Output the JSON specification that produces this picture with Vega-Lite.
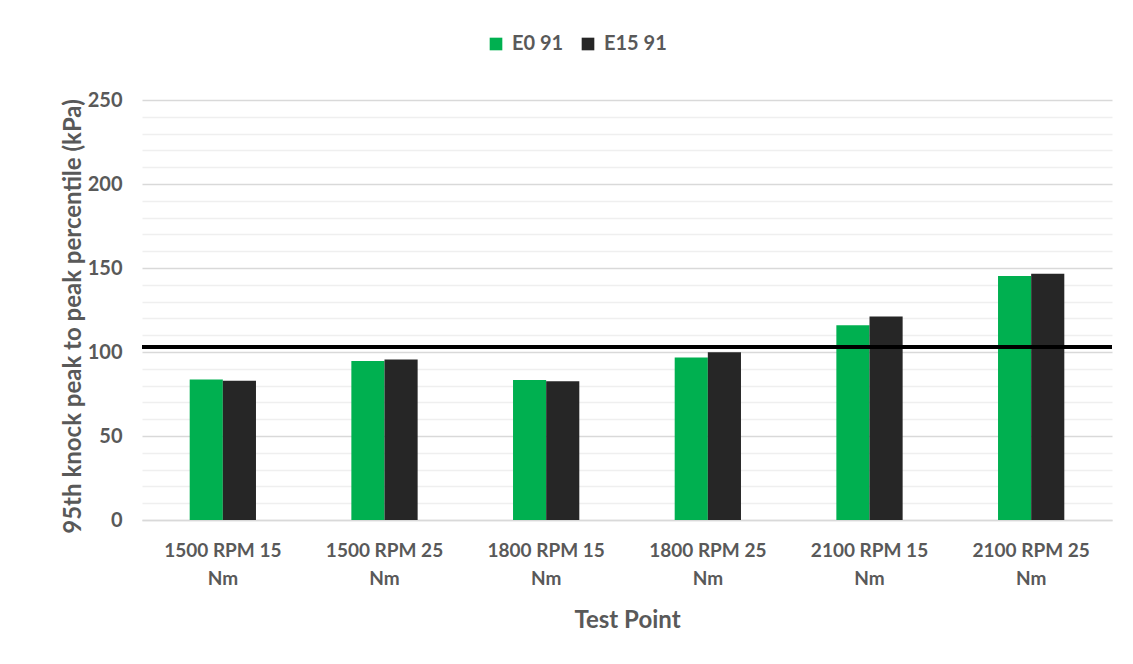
{
  "$schema": "https://vega.github.io/schema/vega-lite/v6.json",
  "autosize": "none",
  "width": 970,
  "height": 420,
  "padding": {"left": 142, "top": 100, "right": 21, "bottom": 144},
  "background": "white",
  "config": {
    "view": {"stroke": null},
    "font": "Lato",
    "axis": {"labelFont": "Lato", "titleFont": "Lato"}
  },
  "data": {
    "values": [
      {"test": "1500 RPM 15|Nm", "fuel": "E0 91", "kpa": 83.7},
      {"test": "1500 RPM 15|Nm", "fuel": "E15 91", "kpa": 82.9},
      {"test": "1500 RPM 25|Nm", "fuel": "E0 91", "kpa": 94.6},
      {"test": "1500 RPM 25|Nm", "fuel": "E15 91", "kpa": 95.6},
      {"test": "1800 RPM 15|Nm", "fuel": "E0 91", "kpa": 83.3},
      {"test": "1800 RPM 15|Nm", "fuel": "E15 91", "kpa": 82.6},
      {"test": "1800 RPM 25|Nm", "fuel": "E0 91", "kpa": 96.8},
      {"test": "1800 RPM 25|Nm", "fuel": "E15 91", "kpa": 99.8},
      {"test": "2100 RPM 15|Nm", "fuel": "E0 91", "kpa": 115.9},
      {"test": "2100 RPM 15|Nm", "fuel": "E15 91", "kpa": 121.2},
      {"test": "2100 RPM 25|Nm", "fuel": "E0 91", "kpa": 145.2},
      {"test": "2100 RPM 25|Nm", "fuel": "E15 91", "kpa": 146.6}
    ]
  },
  "layer": [
    {
      "mark": {"type": "bar"},
      "encoding": {
        "x": {
          "field": "test", "type": "nominal", "sort": null,
          "scale": {"paddingInner": 0.59, "paddingOuter": 0.295},
          "axis": {
            "title": "Test Point",
            "labelExpr": "split(datum.value, '|')",
            "labelAngle": 0,
            "labelFontSize": 19,
            "labelFontWeight": "bold",
            "labelColor": "#595959",
            "labelPadding": 21,
            "labelLineHeight": 28,
            "labelOverlap": false,
            "labelLimit": 0,
            "ticks": false,
            "domainColor": "#d9d9d9",
            "domainWidth": 1.5,
            "titleFontSize": 24,
            "titleFontWeight": "bold",
            "titleColor": "#595959",
            "titleY": 100,
            "titleBaseline": "middle"
          }
        },
        "xOffset": {"field": "fuel", "type": "nominal", "scale": {"paddingInner": 0, "paddingOuter": 0}},
        "y": {
          "field": "kpa", "type": "quantitative",
          "scale": {"domain": [0, 250], "nice": false},
          "axis": {
            "title": "95th knock peak to peak percentile (kPa)",
            "values": [0,10,20,30,40,50,60,70,80,90,100,110,120,130,140,150,160,170,180,190,200,210,220,230,240,250],
            "labelExpr": "datum.value % 50 === 0 ? datum.label : ''",
            "labelOverlap": false,
            "gridColor": {"condition": {"test": "datum.value % 50 === 0", "value": "#d9d9d9"}, "value": "#efefef"},
            "gridWidth": 1.5,
            "domain": false,
            "ticks": false,
            "labelFontSize": 20,
            "labelFontWeight": "bold",
            "labelColor": "#595959",
            "labelPadding": 20,
            "titleFontSize": 24,
            "titleFontWeight": "bold",
            "titleColor": "#595959",
            "titleLimit": 0,
            "titleX": -69,
            "titleY": 216,
            "titleAngle": -90,
            "titleBaseline": "middle",
            "titleAlign": "center"
          }
        },
        "color": {
          "field": "fuel", "type": "nominal",
          "scale": {"domain": ["E0 91", "E15 91"], "range": ["#00b050", "#262626"]},
          "legend": {
            "title": null,
            "orient": "none",
            "direction": "horizontal",
            "legendX": 344,
            "legendY": -66,
            "symbolType": "square",
            "symbolSize": 160,
            "symbolStrokeWidth": 0,
            "labelFontSize": 20,
            "labelFontWeight": "bold",
            "labelColor": "#595959",
            "labelFont": "Lato",
            "columnPadding": 14,
            "labelOffset": 6
          }
        }
      }
    },
    {
      "mark": {"type": "rule", "color": "black", "strokeWidth": 4},
      "encoding": {
        "y": {
          "datum": 103, "type": "quantitative",
          "axis": {
            "title": "95th knock peak to peak percentile (kPa)",
            "values": [0,10,20,30,40,50,60,70,80,90,100,110,120,130,140,150,160,170,180,190,200,210,220,230,240,250],
            "labelExpr": "datum.value % 50 === 0 ? datum.label : ''",
            "labelOverlap": false,
            "gridColor": {"condition": {"test": "datum.value % 50 === 0", "value": "#d9d9d9"}, "value": "#efefef"},
            "gridWidth": 1.5,
            "domain": false,
            "ticks": false,
            "labelFontSize": 20,
            "labelFontWeight": "bold",
            "labelColor": "#595959",
            "labelPadding": 20,
            "titleFontSize": 24,
            "titleFontWeight": "bold",
            "titleColor": "#595959",
            "titleLimit": 0,
            "titleX": -69,
            "titleY": 216,
            "titleAngle": -90,
            "titleBaseline": "middle",
            "titleAlign": "center"
          }
        }
      }
    }
  ]
}
